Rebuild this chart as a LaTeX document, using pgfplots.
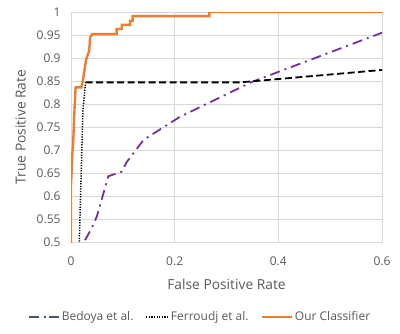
\documentclass[border=0pt]{standalone}
\usepackage{fontspec}
\setmainfont{Open Sans}
\usepackage{pgfplots}
\pgfplotsset{compat=1.18}
\definecolor{cgrid}{RGB}{217,217,217}
\definecolor{ctext}{RGB}{89,89,89}
\definecolor{corange}{RGB}{237,125,49}
\definecolor{cpurple}{RGB}{112,48,160}
\definecolor{cslate}{RGB}{68,84,106}

\begin{document}
\begin{tikzpicture}
  \begin{axis}[
    scale only axis,
    width=311bp,
    height=230bp,
    xmin=0, xmax=0.6,
    ymin=0.5, ymax=1,
    xtick={0,0.2,0.4,0.6},
    ytick={0.5,0.55,0.6,0.65,0.7,0.75,0.8,0.85,0.9,0.95,1},
    /pgf/number format/assume math mode=true,
    tick label style={font=\fontsize{12bp}{14bp}\selectfont, text=ctext},
    label style={font=\fontsize{13.8bp}{16bp}\selectfont, text=ctext},
    xlabel={False Positive Rate},
    ylabel={True Positive Rate},
    xlabel style={yshift=-7bp},
    ylabel style={yshift=4bp},
    grid=major,
    grid style={draw=cgrid, line width=0.9bp},
    axis line style={draw=cgrid, line width=0.9bp},
    major tick length=0pt,
    xticklabel style={yshift=-11bp},
    yticklabel style={xshift=-7bp},
    legend columns=3,
    legend style={
      draw=none, fill=none,
      font=\fontsize{12bp}{14bp}\selectfont, text=ctext,
      at={(axis description cs:0.415,-0.326)}, anchor=center,
      /tikz/every even column/.append style={column sep=10bp}
    },
    clip=true
  ]
    % Bedoya et al.
    \addplot[cpurple, line width=1.8bp, dash pattern=on 10bp off 5bp on 2bp off 5bp,
      legend image code/.code={\draw[cslate, line width=1.8bp, dash pattern=on 10bp off 5bp on 2bp off 3bp] (0bp,0bp) -- (30bp,0bp);}]
      coordinates {
        (0.027,0.504) (0.040,0.530) (0.050,0.556) (0.072,0.643)
        (0.098,0.653) (0.107,0.673) (0.140,0.722) (0.210,0.772)
        (0.349,0.848) (0.600,0.955)
      };
    % Ferroudj et al. (dotted part)
    \addplot[black, line width=1.5bp, dash pattern=on 1.2bp off 1.4bp,
      legend image code/.code={\draw[black, line width=1.5bp, dash pattern=on 1.2bp off 1.4bp] (0bp,0bp) -- (22bp,0bp);}]
      coordinates {
        (0.016,0.45) (0.016,0.5) (0.023,0.787) (0.028,0.847)
      };
    % Ferroudj et al. (dashed part)
    \addplot[black, line width=1.8bp, dash pattern=on 7bp off 3.5bp, forget plot]
      coordinates {
        (0.028,0.847) (0.326,0.847) (0.600,0.874)
      };
    % Our Classifier
    \addplot[corange, line width=2.4bp, line join=miter,
      legend image code/.code={\draw[corange, line width=2.4bp] (0bp,0bp) -- (30bp,0bp);}]
      coordinates {
        (0,0.45) (0,0.624) (0.002,0.672) (0.003,0.700) (0.004,0.712)
        (0.007,0.794) (0.009,0.836) (0.020,0.836) (0.023,0.851)
        (0.029,0.896) (0.035,0.915) (0.037,0.945) (0.041,0.952)
        (0.088,0.952) (0.088,0.963) (0.098,0.963) (0.098,0.972)
        (0.114,0.972) (0.114,0.981) (0.119,0.981) (0.119,0.991)
        (0.267,0.991) (0.267,1.0) (0.6,1.0)
      };
    \legend{Bedoya et al.,Ferroudj et al.,Our Classifier}
    \coordinate (sw) at (rel axis cs:0,0);
    \coordinate (ne) at (rel axis cs:1,1);
  \end{axis}
  \pgfresetboundingbox
  \path ([xshift=-71bp,yshift=-91bp]sw) rectangle ([xshift=18bp,yshift=12bp]ne);
\end{tikzpicture}
\end{document}
